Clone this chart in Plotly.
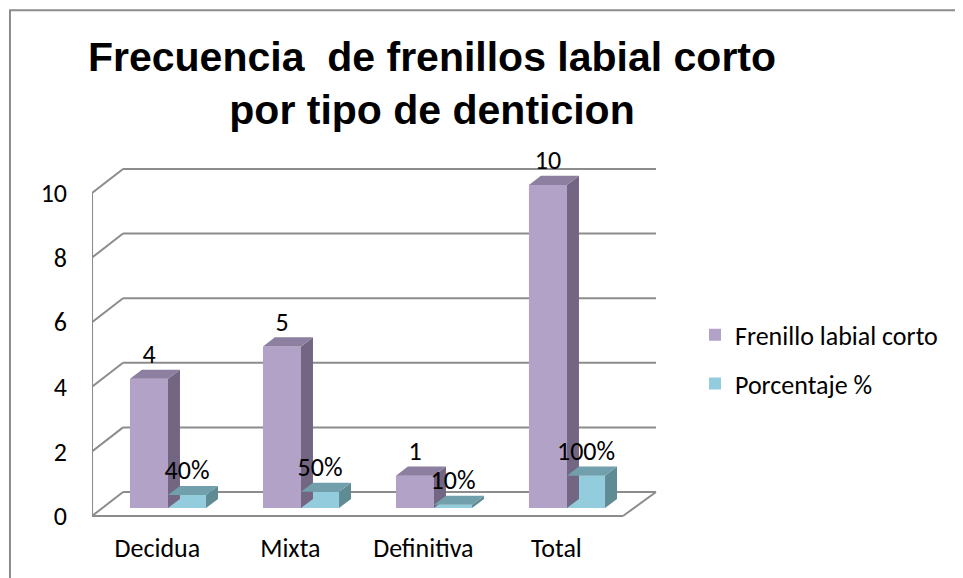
import plotly.graph_objects as go

# data
categorias = ["Decidua", "Mixta", "Definitiva", "Total"]
frenillo = [4, 5, 1, 10]
porcentaje = [0.40, 0.50, 0.10, 1.00]   # plotted as fractions, labelled as %
y_ticks = [0, 2, 4, 6, 8, 10]

PURPLE = dict(front="#B3A2C7", side="#736683", top="#8C7F9F")
CYAN = dict(front="#93CDDD", side="#5F8B95", top="#71A0AC")
GRID = "#8C8C8C"
LABEL_FONT = "Carlito, Lato, sans-serif"
LABEL_SIZE = 26

# fake 3D geometry (in axis units)
BAR_W = 0.286          # width of each bar
BASE = 0.25            # bars stand a bit behind the front floor edge
DX, DY = 0.09, 0.28    # bar depth offset
WX, WY = 0.233, 0.743  # back wall offset
X_FRONT = -0.571       # front left axis
X_BACK_END = 3.669
X_FLOOR_END = 3.421

fig = go.Figure()


def add_series(values, offset, colors, name, labels):
    xs = [i + offset for i in range(len(values))]
    fig.add_trace(go.Bar(
        x=xs, y=values, base=BASE, width=BAR_W, name=name,
        marker=dict(color=colors["front"], line=dict(width=0)),
        legendgroup=name, hoverinfo="skip"
    ))
    side_x, side_y, top_x, top_y = [], [], [], []
    for x, v in zip(xs, values):
        x0, x1 = x - BAR_W / 2, x + BAR_W / 2
        t = BASE + v
        side_x += [x1, x1 + DX, x1 + DX, x1, x1, None]
        side_y += [BASE, BASE + DY, t + DY, t, BASE, None]
        top_x += [x0, x0 + DX, x1 + DX, x1, x0, None]
        top_y += [t, t + DY, t + DY, t, t, None]
    for px_, py_, col in [(side_x, side_y, colors["side"]), (top_x, top_y, colors["top"])]:
        fig.add_trace(go.Scatter(
            x=px_, y=py_, mode="lines", fill="toself", fillcolor=col,
            line=dict(width=0), showlegend=False, hoverinfo="skip"
        ))
    fig.add_trace(go.Scatter(
        x=xs, y=[BASE + v + DY for v in values], mode="text", text=labels,
        textposition="top center", cliponaxis=False,
        textfont=dict(family=LABEL_FONT, size=LABEL_SIZE, color="black"),
        showlegend=False, hoverinfo="skip"
    ))


add_series(frenillo, -BAR_W / 2, PURPLE, "Frenillo labial corto", [str(v) for v in frenillo])
add_series(porcentaje, BAR_W / 2, CYAN, "Porcentaje %", [f"{v:.0%}" for v in porcentaje])

# walls and floor
shapes = []
for v in y_ticks:
    shapes.append(dict(type="line", x0=X_FRONT, y0=v, x1=X_FRONT + WX, y1=v + WY))
    shapes.append(dict(type="line", x0=X_FRONT + WX, y0=v + WY, x1=X_BACK_END, y1=v + WY))
shapes.append(dict(type="line", x0=X_FRONT, y0=0, x1=X_FRONT, y1=y_ticks[-1]))
shapes.append(dict(type="line", x0=X_FRONT, y0=0, x1=X_FLOOR_END, y1=0))
shapes.append(dict(type="line", x0=X_FLOOR_END, y0=0, x1=X_BACK_END, y1=WY))
for s in shapes:
    s.update(xref="x", yref="y", layer="below", line=dict(color=GRID, width=2))

# chart border
shapes.append(dict(type="rect", xref="paper", yref="paper",
                   x0=-0.1395, x1=1.52, y0=-0.18, y1=1.405,
                   line=dict(color="#8C8C8C", width=2), layer="below"))

# the page body adds an 8px offset, so the figure is 8px smaller than the window
fig.update_layout(
    width=955, height=570,
    margin=dict(l=84, r=283, t=152, b=48),
    paper_bgcolor="white", plot_bgcolor="white",
    barmode="overlay",
    shapes=shapes,
    title=dict(
        text="<b>Frecuencia  de frenillos labial corto<br>por tipo de denticion</b>",
        font=dict(family="Liberation Sans, Arial", size=41, color="black"),
        x=0.444, xref="container", xanchor="center",
        y=0.8895, yref="container", yanchor="middle"
    ),
    xaxis=dict(
        range=[-0.5714, 3.8496], tickvals=[i - 0.08 for i in range(len(categorias))],
        ticktext=categorias, showgrid=False, zeroline=False, showline=False, ticks="",
        tickfont=dict(family=LABEL_FONT, size=LABEL_SIZE, color="black")
    ),
    yaxis=dict(
        range=[-0.433, 11.02], tickvals=y_ticks, showgrid=False, zeroline=False,
        showline=False, ticks="", ticklabelstandoff=24,
        tickfont=dict(family=LABEL_FONT, size=LABEL_SIZE, color="black")
    ),
    legend=dict(
        x=1.0255, y=0.591, xanchor="left", yanchor="top",
        traceorder="grouped", tracegroupgap=12,
        font=dict(family=LABEL_FONT, size=LABEL_SIZE, color="black"),
        bgcolor="rgba(0,0,0,0)"
    ),
    showlegend=True
)

fig.write_html("out.html")
